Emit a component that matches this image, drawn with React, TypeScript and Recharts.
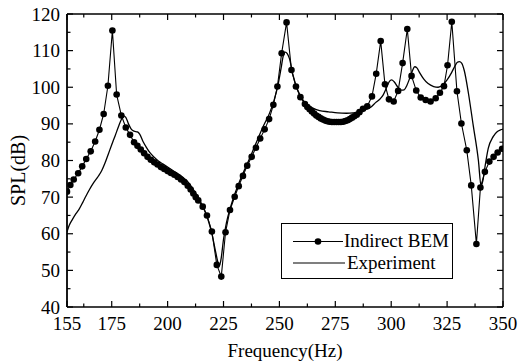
import { LineChart, Line, XAxis, YAxis, Legend } from 'recharts';

// Indirect BEM (dots), frequency in Hz / SPL in dB
const bemFreq = [
  155, 156.5, 158, 160, 161.8, 163.6, 165.6, 167.6, 169.5, 171.4,
  173.3, 175.3, 177.2, 179.3, 181.3, 183.2, 185, 186.5, 188, 189.5,
  191, 192.5, 194, 195.5, 197, 198.5, 200, 201.5, 203, 204.5,
  206, 207.5, 209, 210.3, 211.5, 212.6, 213.7, 215.7, 217.6, 219.8,
  222, 224, 225.9, 227.9, 230, 231.8, 233.7, 235.6, 237.6, 239.5,
  241.4, 243.4, 245.4, 247.3, 249.1, 251, 253.2, 255.4, 257.4, 259.4,
  261.4, 262.5, 263.5, 264.5, 265.5, 266.5, 267.5, 268.5, 269.5, 270.5,
  271.5, 272.5, 273.5, 274.5, 275.5, 276.5, 277.5, 278.5, 279.5, 280.5,
  281.5, 282.5, 283.5, 284.6, 285.8, 287.4, 289.3, 291.4, 293.3, 295.3,
  297.2, 299, 301.1, 303.1, 305.1, 307.2, 309.1, 311.2, 313.2, 315.4,
  317.6, 319.9, 321.8, 323.6, 325.2, 327.1, 329.4, 331.4, 333.8, 335.8,
  338.1, 339.9, 341.9, 343.9, 345.8, 347.6, 349.6,
];
const bemSpl = [
  71.5, 73.3, 74.8, 76.5, 78.4, 80.4, 82.5, 85.2, 88.4, 92.7,
  100.4, 115.5, 98, 92.3, 89, 87, 85, 84, 83, 82,
  81, 80.2, 79.5, 78.9, 78.2, 77.7, 77.1, 76.6, 76.1, 75.5,
  74.8, 74.1, 73.1, 72.1, 71, 70, 69.1, 67.4, 65, 60.6,
  51.5, 48.3, 60.4, 66.5, 70.1, 73, 75.8, 78.6, 81, 83.5,
  86, 88.5, 91.3, 95.2, 100.2, 109.3, 117.7, 104.7, 100.2, 97.3,
  95.4, 94.6, 94, 93.4, 92.8, 92.3, 91.9, 91.5, 91.2, 90.9,
  90.7, 90.6, 90.5, 90.5, 90.5, 90.5, 90.5, 90.6, 90.8, 91,
  91.3, 91.7, 92.1, 92.5, 93.2, 94.1, 94.8, 97.5, 103.7, 112.6,
  100.8, 96.7, 96.1, 99, 106.6, 115.9, 103.1, 99.1, 97.2, 96.5,
  96.1, 97, 98.5, 100.3, 106, 117.9, 98.9, 90.1, 82.8, 73.2,
  57.2, 72.6, 76.9, 79.7, 81, 82.2, 83.2,
];

// Experiment (solid line)
const expFreq = [
  155, 156, 157.5, 159, 160.5, 162, 163.5, 165, 167, 169,
  170.5, 172, 173.5, 175, 176.5, 178, 179.3, 180.3, 181.3, 182.5,
  183.8, 185, 186.5, 187.5, 189, 190.5, 192, 194, 196, 198,
  200, 203, 206, 209, 212, 214.5, 216.5, 218.5, 220, 221.5,
  222.5, 223.2, 224, 225, 226.3, 228, 230, 232, 234.5, 237,
  240, 243, 245.5, 247.5, 249.5, 250.7, 251.7, 252.6, 253.5, 254.5,
  256, 258, 260, 262, 265, 268, 272, 276, 280, 283,
  285, 287, 289, 291, 293, 295, 296.5, 298, 299.2, 300.2,
  301.3, 303, 304.5, 305.8, 307, 308.3, 309.5, 310.5, 311.5, 312.7,
  314.5, 316.5, 319, 321, 323, 325, 327, 328.5, 329.6, 330.5,
  331.5, 332.7, 334.5, 336.7, 339, 340.2, 341, 342, 343.4, 345.6,
  347.5, 349, 350,
];
const expSpl = [
  60.5, 62.3, 64, 65.5, 66.8, 68.5, 70.3, 72, 74, 75.7,
  77.2, 79.3, 81.8, 84.3, 86.7, 89.2, 91.2, 92.2, 91.8, 90,
  88.5, 88, 87.8, 87.2, 85.2, 83.6, 82.2, 80.9, 79.8, 79,
  78.2, 77, 75.8, 74.2, 71.6, 69, 66.5, 63, 59.5, 55,
  52.2, 51.3, 53.5, 58.5, 63, 67, 70.8, 74, 77.6, 81,
  85.4, 89.6, 92.8, 96.2, 101, 105, 108.5, 109.6, 109.2, 107.8,
  103.5, 99.5, 97, 95.5, 94.3, 93.6, 93.3, 93, 92.9, 93,
  93.2, 93.6, 94, 94.6, 95.8, 96.8, 98, 100, 101.6, 102,
  101.5, 100, 99.2, 99.3, 100.5, 102.5, 104.5, 105.6, 105.3, 104,
  102.3, 101, 100.2, 100, 100.6, 102, 104, 105.8, 106.8, 107,
  106.6, 104.5, 98.5, 89.5, 80, 73, 74.5, 78.5, 83.3, 86.5,
  87.9, 88.4, 88.6,
];

const xLabels = [155, 175, 200, 225, 250, 275, 300, 325, 350];
const xMinor = [162.5, 187.5, 212.5, 237.5, 262.5, 287.5, 312.5, 337.5];
const yLabels = [40, 50, 60, 70, 80, 90, 100, 110, 120];
const yMinor = [45, 55, 65, 75, 85, 95, 105, 115];

const bemData = bemFreq.map((f, i) => ({ f, spl: bemSpl[i] }));
const expData = expFreq.map((f, i) => ({ f, spl: expSpl[i] }));
const xAllTicks = [...xLabels, ...xMinor].sort((a, b) => a - b);
const yAllTicks = [...yLabels, ...yMinor].sort((a, b) => a - b);

const FONT = '"Liberation Serif", "DejaVu Serif", serif';
const MAJOR = 6;
const MINOR = 3.5;

function makeTick(side: 'bottom' | 'top' | 'left' | 'right') {
  return (props: any) => {
    const { x, y, payload } = props;
    const v = payload.value;
    const major = side === 'bottom' || side === 'top' ? xLabels.includes(v) : yLabels.includes(v);
    const len = major ? MAJOR : MINOR;
    let line;
    if (side === 'bottom') line = <line x1={x} x2={x} y1={y} y2={y - len} />;
    else if (side === 'top') line = <line x1={x} x2={x} y1={y} y2={y + len} />;
    else if (side === 'left') line = <line x1={x} x2={x + len} y1={y} y2={y} />;
    else line = <line x1={x} x2={x - len} y1={y} y2={y} />;
    return (
      <g stroke="#000" strokeWidth={1.2}>
        {line}
        {major && side === 'bottom' && (
          <text x={x} y={y + 23} textAnchor="middle" fontSize={19} fontFamily={FONT} fill="#000" stroke="none">
            {v}
          </text>
        )}
        {major && side === 'left' && (
          <text x={x - 7} y={y + 6.5} textAnchor="end" fontSize={19} fontFamily={FONT} fill="#000" stroke="none">
            {v}
          </text>
        )}
      </g>
    );
  };
}

function LegendBox() {
  return (
    <div
      style={{
        position: 'relative',
        width: 172,
        height: 56,
        border: '1.5px solid #000',
        boxSizing: 'border-box',
        background: '#fff',
        fontFamily: FONT,
        fontSize: 19,
        color: '#000',
      }}
    >
      <svg width={70} height={56} style={{ position: 'absolute', left: 0, top: 0 }}>
        <line x1={11} x2={61} y1={17.5} y2={17.5} stroke="#000" strokeWidth={1.2} />
        <circle cx={36} cy={17.5} r={3.3} fill="#000" />
        <line x1={11} x2={63} y1={39} y2={39} stroke="#000" strokeWidth={1.2} />
      </svg>
      <div style={{ position: 'absolute', left: 62, top: 6, lineHeight: '21px', whiteSpace: 'nowrap' }}>
        Indirect BEM
      </div>
      <div style={{ position: 'absolute', left: 65, top: 28, lineHeight: '21px', whiteSpace: 'nowrap' }}>
        Experiment
      </div>
    </div>
  );
}

const yTitle = (p: any) => {
  const vb = p.viewBox;
  const cx = vb.x + 25;
  const cy = vb.y + vb.height / 2 + 10;
  return (
    <text x={cx} y={cy} transform={`rotate(-90, ${cx}, ${cy})`} textAnchor="middle" fontSize={20} fontFamily={FONT} fill="#000">
      SPL(dB)
    </text>
  );
};

export default function App() {
  return (
    <div style={{ position: 'absolute', left: 0, top: 0, background: '#fff' }}>
      <LineChart width={518} height={363} margin={{ top: 13, right: 14, bottom: 0, left: 0 }}>
        <XAxis
          type="number"
          dataKey="f"
          domain={[155, 350]}
          allowDataOverflow
          ticks={xAllTicks}
          interval={0}
          height={56}
          tickSize={0}
          tickMargin={0}
          tickLine={false}
          tick={makeTick('bottom')}
          stroke="#000"
          strokeWidth={1.6}
          label={{ value: 'Frequency(Hz)', position: 'insideBottom', offset: 6, fill: '#000', fontSize: 19, fontFamily: FONT }}
        />
        <XAxis
          xAxisId="top"
          orientation="top"
          type="number"
          dataKey="f"
          domain={[155, 350]}
          allowDataOverflow
          ticks={xAllTicks}
          interval={0}
          height={1}
          tickSize={0}
          tickMargin={0}
          tickLine={false}
          tick={makeTick('top')}
          stroke="#000"
          strokeWidth={1.4}
        />
        <YAxis
          type="number"
          domain={[40, 120]}
          allowDataOverflow
          ticks={yAllTicks}
          interval={0}
          width={67}
          tickSize={0}
          tickMargin={0}
          tickLine={false}
          tick={makeTick('left')}
          stroke="#000"
          strokeWidth={1.8}
          label={{ content: yTitle }}
        />
        <YAxis
          yAxisId="right"
          orientation="right"
          type="number"
          domain={[40, 120]}
          allowDataOverflow
          ticks={yAllTicks}
          interval={0}
          width={1}
          tickSize={0}
          tickMargin={0}
          tickLine={false}
          tick={makeTick('right')}
          stroke="#000"
          strokeWidth={1.4}
        />
        <Legend
          layout="horizontal"
          verticalAlign="middle"
          align="center"
          content={LegendBox}
          wrapperStyle={{ left: 281, top: 223, width: 172, height: 56 }}
        />
        <Line
          data={expData}
          dataKey="spl"
          name="Experiment"
          type="monotone"
          stroke="#000"
          strokeWidth={1.3}
          dot={false}
          activeDot={false}
          isAnimationActive={false}
        />
        <Line
          data={bemData}
          dataKey="spl"
          name="Indirect BEM"
          type="linear"
          stroke="#000"
          strokeWidth={1.1}
          dot={{ r: 3.3, fill: '#000', stroke: '#000', strokeWidth: 0 }}
          activeDot={false}
          isAnimationActive={false}
        />
      </LineChart>
    </div>
  );
}
